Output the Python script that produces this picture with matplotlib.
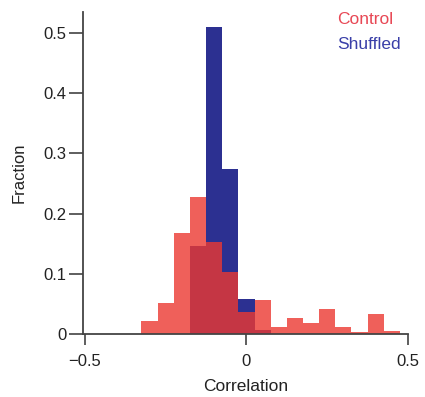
import matplotlib
matplotlib.use("Agg")
import matplotlib.pyplot as plt
import numpy as np

plt.rcParams['font.family'] = ['Liberation Sans', 'DejaVu Sans']

bin_centers = [-0.30, -0.25, -0.20, -0.15, -0.10, -0.05, 0.00, 0.05,
               0.10, 0.15, 0.20, 0.25, 0.30, 0.35, 0.40, 0.45]
control = [0.021, 0.051, 0.168, 0.228, 0.153, 0.103, 0.037, 0.056,
           0.012, 0.027, 0.019, 0.041, 0.012, 0.004, 0.034, 0.005]
shuffled = [0.0, 0.0, 0.0, 0.146, 0.51, 0.274, 0.058, 0.007,
            0.0, 0.0, 0.0, 0.0, 0.0, 0.0, 0.0, 0.0]
bin_width = 0.05

blue = '#2C3091'
red = (236/255, 56/255, 49/255)

fig = plt.figure(figsize=(4.25, 3.97), dpi=100)
ax = fig.add_axes([0.196, 0.1587, 0.764, 0.811])

ax.bar(bin_centers, shuffled, width=bin_width, color=blue, linewidth=0)
ax.bar(bin_centers, control, width=bin_width, color=red, alpha=0.8, linewidth=0)

ax.set_xlim(-0.505, 0.5)
ax.set_ylim(0, 0.535)
ax.set_xticks([-0.5, 0, 0.5])
ax.set_xticklabels(['\u22120.5', '0', '0.5'])
ax.set_yticks([0, 0.1, 0.2, 0.3, 0.4, 0.5])
ax.set_yticklabels(['0', '0.1', '0.2', '0.3', '0.4', '0.5'])
ax.tick_params(labelsize=12, width=1.1, color='#333333', labelcolor='#222222')
ax.tick_params(axis='x', length=8, pad=6.5)
ax.tick_params(axis='y', length=10, pad=2)
for s in ['top', 'right']:
    ax.spines[s].set_visible(False)
for s in ['left', 'bottom']:
    ax.spines[s].set_color('#444444')
    ax.spines[s].set_linewidth(1.3)

ax.set_xlabel('Correlation', fontsize=12.5, color='#222222')
ax.set_ylabel('Fraction', fontsize=12, color='#222222')
ax.xaxis.set_label_coords(0.5, -0.139)
ax.yaxis.set_label_coords(-0.175, 0.5)

fig.text(0.793, 0.940, 'Control', color='#E84855',
         fontsize=12.5, ha='left', va='baseline')
fig.text(0.793, 0.877, 'Shuffled', color='#3A3FA8',
         fontsize=12.5, ha='left', va='baseline')

fig.savefig('out.png', dpi=100)
